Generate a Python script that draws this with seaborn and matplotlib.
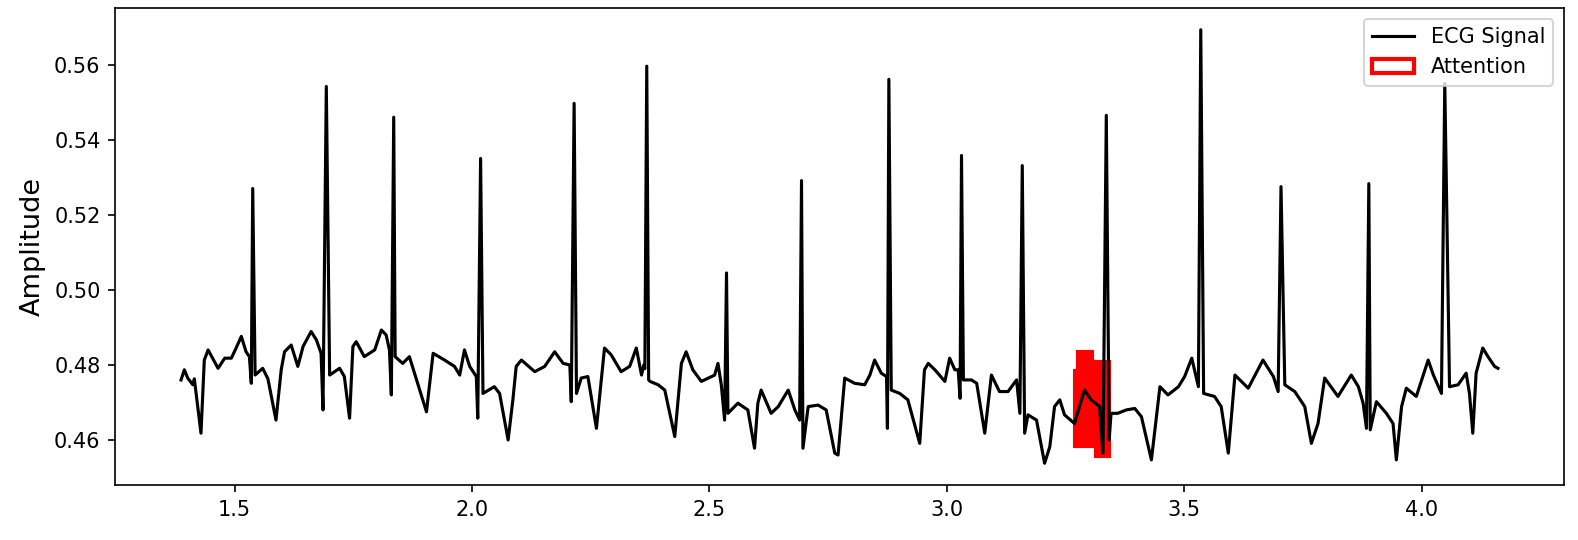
import matplotlib
matplotlib.use("Agg")
import matplotlib.pyplot as plt
import seaborn as sns
from matplotlib.patches import Rectangle, Patch
from matplotlib.lines import Line2D

# --- data (time in s, amplitude) ---
t = [1.387, 1.394, 1.401, 1.412, 1.415, 1.429, 1.436, 1.444, 1.465, 1.479,
     1.493, 1.503, 1.514, 1.524, 1.531, 1.535, 1.538, 1.543, 1.559, 1.570,
     1.587, 1.598, 1.605, 1.619, 1.633, 1.644, 1.661, 1.672, 1.682, 1.686,
     1.693, 1.700, 1.721, 1.731, 1.742, 1.749, 1.756, 1.773, 1.795, 1.809,
     1.819, 1.826, 1.830, 1.835, 1.838, 1.854, 1.868, 1.882, 1.904, 1.918,
     1.942, 1.963, 1.974, 1.984, 1.995, 2.009, 2.012, 2.018, 2.023, 2.047,
     2.058, 2.076, 2.086, 2.093, 2.104, 2.132, 2.153, 2.174, 2.192, 2.206,
     2.209, 2.215, 2.220, 2.230, 2.244, 2.262, 2.279, 2.293, 2.314, 2.332,
     2.346, 2.357, 2.362, 2.364, 2.368, 2.372, 2.375, 2.392, 2.406, 2.427,
     2.441, 2.451, 2.465, 2.483, 2.511, 2.518, 2.525, 2.532, 2.536, 2.539,
     2.560, 2.581, 2.595, 2.602, 2.609, 2.630, 2.645, 2.666, 2.680, 2.690,
     2.694, 2.697, 2.708, 2.729, 2.746, 2.764, 2.771, 2.785, 2.806, 2.827,
     2.838, 2.848, 2.862, 2.873, 2.875, 2.878, 2.883, 2.901, 2.918, 2.943,
     2.953, 2.961, 2.975, 2.996, 3.006, 3.017, 3.024, 3.028, 3.031, 3.035,
     3.052, 3.063, 3.080, 3.094, 3.111, 3.129, 3.147, 3.154, 3.159, 3.164,
     3.171, 3.189, 3.206, 3.217, 3.227, 3.238, 3.248, 3.269, 3.290, 3.304,
     3.322, 3.329, 3.336, 3.342, 3.346, 3.360, 3.378, 3.396, 3.410, 3.431,
     3.449, 3.466, 3.488, 3.501, 3.516, 3.530, 3.535, 3.541, 3.564, 3.578,
     3.593, 3.607, 3.635, 3.666, 3.688, 3.698, 3.704, 3.712, 3.733, 3.754,
     3.768, 3.782, 3.796, 3.824, 3.852, 3.867, 3.877, 3.884, 3.889, 3.892,
     3.905, 3.926, 3.940, 3.947, 3.958, 3.968, 3.989, 4.014, 4.025, 4.042,
     4.049, 4.059, 4.077, 4.094, 4.101, 4.108, 4.115, 4.129, 4.140, 4.154,
     4.161]

amp = [0.4760, 0.4787, 0.4765, 0.4747, 0.4763, 0.4618, 0.4813, 0.4840, 0.4791, 0.4818,
       0.4818, 0.4845, 0.4876, 0.4835, 0.4822, 0.4751, 0.5270, 0.4773, 0.4791, 0.4763,
       0.4653, 0.4787, 0.4835, 0.4853, 0.4796, 0.4849, 0.4889, 0.4867, 0.4831, 0.4680,
       0.5542, 0.4773, 0.4791, 0.4769, 0.4658, 0.4849, 0.4862, 0.4822, 0.4840, 0.4893,
       0.4880, 0.4840, 0.4720, 0.5460, 0.4822, 0.4804, 0.4822, 0.4765, 0.4675, 0.4831,
       0.4813, 0.4796, 0.4773, 0.4840, 0.4796, 0.4769, 0.4658, 0.5350, 0.4724, 0.4742,
       0.4724, 0.4600, 0.4707, 0.4796, 0.4813, 0.4782, 0.4796, 0.4835, 0.4804, 0.4800,
       0.4702, 0.5497, 0.4724, 0.4765, 0.4769, 0.4631, 0.4845, 0.4827, 0.4782, 0.4796,
       0.4845, 0.4773, 0.4800, 0.4790, 0.5596, 0.4760, 0.4756, 0.4747, 0.4733, 0.4609,
       0.4804, 0.4835, 0.4787, 0.4756, 0.4773, 0.4804, 0.4747, 0.4653, 0.5045, 0.4671,
       0.4698, 0.4680, 0.4578, 0.4698, 0.4733, 0.4671, 0.4689, 0.4733, 0.4680, 0.4653,
       0.5291, 0.4578, 0.4689, 0.4693, 0.4680, 0.4565, 0.4560, 0.4765, 0.4751, 0.4747,
       0.4773, 0.4813, 0.4778, 0.4769, 0.4631, 0.5561, 0.4733, 0.4724, 0.4707, 0.4591,
       0.4787, 0.4804, 0.4787, 0.4756, 0.4818, 0.4787, 0.4787, 0.4711, 0.5358, 0.4760,
       0.4760, 0.4751, 0.4618, 0.4773, 0.4729, 0.4729, 0.4760, 0.4671, 0.5331, 0.4618,
       0.4667, 0.4653, 0.4538, 0.4582, 0.4689, 0.4707, 0.4667, 0.4644, 0.4733, 0.4707,
       0.4689, 0.4565, 0.5465, 0.4600, 0.4671, 0.4671, 0.4680, 0.4684, 0.4662, 0.4547,
       0.4742, 0.4720, 0.4742, 0.4769, 0.4818, 0.4742, 0.5693, 0.4724, 0.4716, 0.4689,
       0.4565, 0.4773, 0.4738, 0.4813, 0.4769, 0.4729, 0.5275, 0.4747, 0.4729, 0.4689,
       0.4591, 0.4644, 0.4765, 0.4716, 0.4773, 0.4742, 0.4698, 0.4631, 0.5283, 0.4627,
       0.4702, 0.4671, 0.4644, 0.4547, 0.4689, 0.4738, 0.4716, 0.4813, 0.4773, 0.4724,
       0.5550, 0.4742, 0.4747, 0.4778, 0.4724, 0.4618, 0.4778, 0.4845, 0.4822, 0.4796,
       0.4791]

# attention boxes: start, end, low, high
att_start = [3.267, 3.274, 3.309, 3.313]
att_end = [3.274, 3.309, 3.313, 3.343]
att_low = [0.4580, 0.4580, 0.4580, 0.4555]
att_high = [0.4787, 0.4838, 0.4811, 0.4811]

fig, ax = plt.subplots(figsize=(10.52, 3.6), dpi=150)
fig.subplots_adjust(left=0.073, right=0.991, bottom=0.102, top=0.985)

for x0, x1, lo, hi in zip(att_start, att_end, att_low, att_high):
    ax.add_patch(Rectangle((x0, lo), x1 - x0, hi - lo, facecolor='red',
                           edgecolor='red', linewidth=1.0, zorder=1))

sns.lineplot(x=t, y=amp, color='black', linewidth=1.5, ax=ax,
             sort=False, estimator=None, zorder=2)

ax.set_ylabel('Amplitude', fontsize=13)
ax.set_xlabel('')

handles = [Line2D([0], [0], color='black', linewidth=1.5),
           Patch(facecolor='none', edgecolor='red', linewidth=2)]
ax.legend(handles, ['ECG Signal', 'Attention'], loc='upper right', fontsize=10)

plt.savefig('out.png', dpi=150)
